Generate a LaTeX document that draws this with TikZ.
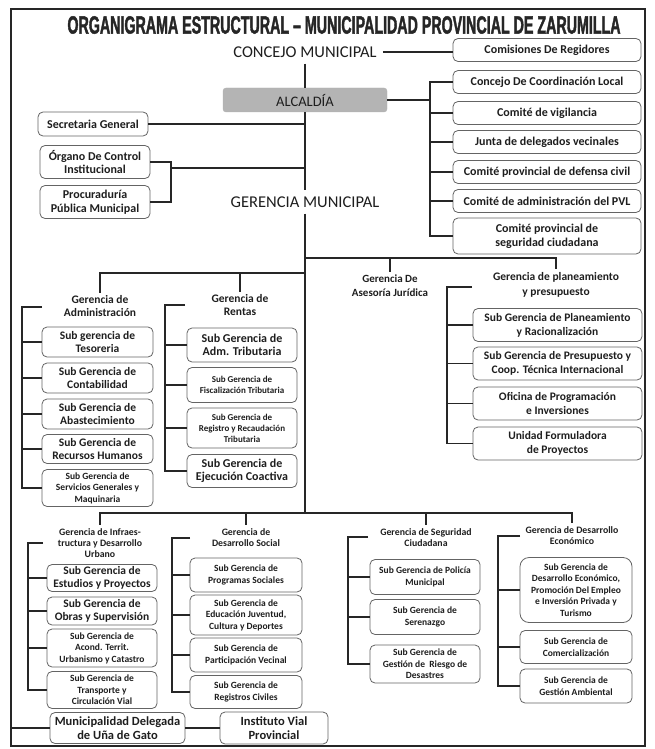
\documentclass[tikz,border=0pt]{standalone}
\usepackage{fontspec}
\setmainfont{Carlito}
\newfontfamily\titlefont[FakeStretch=0.57,FakeBold=1.5]{Liberation Sans}
\usepackage{xcolor}
\definecolor{inkLine}{RGB}{38,38,38}
\definecolor{inkText}{RGB}{30,30,30}
\definecolor{boxEdge}{RGB}{100,100,100}
\definecolor{alcFill}{RGB}{180,180,180}
\tikzset{
    every node/.append style={align=center,text=inkText},
    box/.style={rectangle,draw=boxEdge,line width=0.8pt,rounded corners=5pt,fill=white,
        inner sep=1pt,font=\fontsize{11.5}{12.5}\selectfont\bfseries},
    rcol/.style={box,minimum width=188pt,minimum height=23pt,font=\fontsize{12}{14}\selectfont\bfseries},
    lcol/.style={box,minimum width=110pt,minimum height=24pt,font=\fontsize{12}{13.5}\selectfont\bfseries},
    sub/.style={box,minimum width=111pt},
    plan/.style={box,minimum width=169pt,minimum height=33pt,font=\fontsize{11.5}{14}\selectfont\bfseries},
    fsml/.style={font=\fontsize{9.5}{11.5}\selectfont\bfseries},
    hdr/.style={inner sep=3pt,font=\fontsize{11.5}{13}\selectfont\bfseries},
    hsml/.style={inner sep=3pt,font=\fontsize{9.8}{11.3}\selectfont\bfseries},
    big/.style={inner sep=6pt,font=\fontsize{16.5}{18}\selectfont},
    alc/.style={rectangle,fill=alcFill,draw=black!30,rounded corners=3pt,minimum width=164pt,
        minimum height=24pt,font=\fontsize{14.5}{16}\selectfont},
    ttl/.style={inner sep=0pt,font=\titlefont\fontsize{25}{25}\selectfont\bfseries,text=black!85},
    link/.style={draw=inkLine,line width=1.3pt},
    frame/.style={draw=inkLine,line width=1.4pt}
}
\begin{document}
\begin{tikzpicture}[x=1pt,y=-1pt]
    \useasboundingbox (0,0) rectangle (654,749);
    \draw[frame] (11,9) rectangle (645,746);
    \node[ttl] (title) at (344,25) {ORGANIGRAMA ESTRUCTURAL – MUNICIPALIDAD PROVINCIAL DE ZARUMILLA};

    % top: council, mayor and staff offices
    \node[big]  (concejo)  at (305,52)  {CONCEJO MUNICIPAL};
    \node[alc]  (alcaldia) at (305,100) {ALCALD\'IA};
    \node[big]  (germ)     at (305,202) {GERENCIA MUNICIPAL};
    \node[rcol] (comis)    at (547,50)  {Comisiones De Regidores};
    \node[rcol] (coord)    at (547,82)  {Concejo De Coordinaci\'on Local};
    \node[rcol] (vigil)    at (547,113) {Comit\'e de vigilancia};
    \node[rcol] (junta)    at (547,142) {Junta de delegados vecinales};
    \node[rcol] (civil)    at (547,172) {Comit\'e provincial de defensa civil};
    \node[rcol] (pvl)      at (547,201) {Comit\'e de administraci\'on del PVL};
    \node[rcol,minimum height=36pt] (segc) at (547,236) {Comit\'e provincial de\\seguridad ciudadana};
    \node[lcol] (secret)   at (93,124)  {Secretaria General};
    \node[lcol,minimum height=33pt] (organo) at (95,162) {\'Organo De Control\\Institucional};
    \node[lcol,minimum height=33pt] (procur) at (95,202) {Procuradur\'ia\\P\'ublica Municipal};

    \coordinate (rbTop) at (430,82);
    \coordinate (lbr)   at (171,168);
    \draw[link] (concejo.east) -- (concejo.east -| comis.west);
    \draw[link] (concejo) -- (alcaldia);
    \draw[link] (alcaldia) -- (germ);
    \draw[link] (alcaldia.east) -- (alcaldia.east -| rbTop);
    \draw[link] (coord.west) -- (rbTop) |- (segc.west);
    \draw[link] (vigil.west) -- (vigil.west -| rbTop);
    \draw[link] (junta.west) -- (junta.west -| rbTop);
    \draw[link] (civil.west) -- (civil.west -| rbTop);
    \draw[link] (pvl.west) -- (pvl.west -| rbTop);
    \draw[link] (secret.east) -- (secret.east -| alcaldia.south);
    \draw[link] (organo.east) -| (lbr) |- (procur.east);
    \draw[link] (lbr) -- (lbr -| alcaldia.south);

    % second row of offices
    \coordinate (t2R) at (305,258);
    \coordinate (t2L) at (305,273);
    \coordinate (t3)  at (305,513);
    \node[hdr] (hAdm) at (100,306.5) {Gerencia de\\Administraci\'on};
    \node[hdr] (hRen) at (240,305.5) {Gerencia de\\Rentas};
    \node[hdr,font=\fontsize{11}{14}\selectfont\bfseries] (hAse) at (390,286) {Gerencia De\\Asesor\'ia Jur\'idica};
    \node[hdr,font=\fontsize{11.5}{15}\selectfont\bfseries] (hPla) at (556,284.5) {Gerencia de planeamiento\\y presupuesto};
    \draw[link] (germ) -- (t3);
    \draw[link] (t2R) -| (hPla.north);
    \draw[link] (hAse.north |- t2R) -- (hAse.north);
    \draw[link] (t2L) -| (hAdm.north);
    \draw[link] (hRen.north |- t2L) -- (hRen.north);

    \node[sub,minimum height=30pt] (tes)  at (97.5,342) {Sub gerencia de\\Tesoreria};
    \node[sub,minimum height=30pt] (cont) at (97.5,378) {Sub Gerencia de\\Contabilidad};
    \node[sub,minimum height=30pt] (abas) at (97.5,414) {Sub Gerencia de\\Abastecimiento};
    \node[sub,minimum height=29pt] (rrhh) at (97.5,449) {Sub Gerencia de\\Recursos Humanos};
    \node[sub,fsml,minimum height=37pt] (serv) at (97.5,488) {Sub Gerencia de\\Servicios Generales y\\Maquinaria};
    \coordinate (admTop) at (22,307);
    \coordinate (admTip) at (42,307);
    \draw[link] (admTip) -- (admTop) |- (serv.west);
    \draw[link] (tes.west) -- (tes.west -| admTop);
    \draw[link] (cont.west) -- (cont.west -| admTop);
    \draw[link] (abas.west) -- (abas.west -| admTop);
    \draw[link] (rrhh.west) -- (rrhh.west -| admTop);

    \node[sub,minimum width=110pt,minimum height=34pt,font=\fontsize{12}{13}\selectfont\bfseries] (admt) at (242,345) {Sub Gerencia de\\Adm. Tributaria};
    \node[sub,fsml,minimum width=110pt,minimum height=35pt,font=\fontsize{9}{11.5}\selectfont\bfseries] (fisc) at (242,385) {Sub Gerencia de\\Fiscalizaci\'on Tributaria};
    \node[sub,fsml,minimum width=110pt,minimum height=40pt,font=\fontsize{9}{11}\selectfont\bfseries] (regr) at (242,428) {Sub Gerencia de\\Registro y Recaudaci\'on\\Tributaria};
    \node[sub,minimum width=110pt,minimum height=33pt,font=\fontsize{12}{13}\selectfont\bfseries] (ejec) at (242,471) {Sub Gerencia de\\Ejecuci\'on Coactiva};
    \coordinate (renTop) at (165,305);
    \coordinate (renTip) at (185,305);
    \draw[link] (renTip) -- (renTop) |- (ejec.west);
    \draw[link] (admt.west) -- (admt.west -| renTop);
    \draw[link] (fisc.west) -- (fisc.west -| renTop);
    \draw[link] (regr.west) -- (regr.west -| renTop);

    \node[plan] (plrac) at (557.5,325)   {Sub Gerencia de Planeamiento\\y Racionalizaci\'on};
    \node[plan] (pres)  at (557.5,363.5) {Sub Gerencia de Presupuesto y\\Coop. T\'ecnica Internacional};
    \node[plan] (ofic)  at (557.5,403.5) {Oficina de Programaci\'on\\e Inversiones};
    \node[plan] (unid)  at (557.5,443.5) {Unidad Formuladora\\de Proyectos};
    \coordinate (plaTop) at (447,287);
    \coordinate (plaTip) at (472,287);
    \draw[link] (plaTip) -- (plaTop) |- (unid.west);
    \draw[link] (plrac.west) -- (plrac.west -| plaTop);
    \draw[link] (pres.west) -- (pres.west -| plaTop);
    \draw[link] (ofic.west) -- (ofic.west -| plaTop);

    % third row of offices
    \node[hsml] (hInf) at (100,543)   {Gerencia de Infraes-\\tructura y Desarrollo\\Urbano};
    \node[hsml] (hSoc) at (246,537.5) {Gerencia de\\Desarrollo Social};
    \node[hsml] (hSeg) at (426,537.5) {Gerencia de Seguridad\\Ciudadana};
    \node[hsml] (hEco) at (572,535.5) {Gerencia de Desarrollo\\Econ\'omico};
    \draw[link] (t3) -| (hInf.north);
    \draw[link] (t3) -| (hEco.north);
    \draw[link] (hSoc.north |- t3) -- (hSoc.north);
    \draw[link] (hSeg.north |- t3) -- (hSeg.north);

    \node[sub,minimum width=110pt,minimum height=27pt] (estu) at (102,578) {Sub Gerencia de\\Estudios y Proyectos};
    \node[sub,minimum width=110pt,minimum height=28pt] (obra) at (102,611) {Sub Gerencia de\\Obras y Supervisi\'on};
    \node[sub,fsml,minimum width=110pt,minimum height=38pt] (acon) at (102,648) {Sub Gerencia de\\Acond. Territ.\\Urbanismo y Catastro};
    \node[sub,fsml,minimum width=110pt,minimum height=37pt] (tran) at (102,690) {Sub Gerencia de\\Transporte y\\Circulaci\'on Vial};
    \coordinate (infTop) at (28,543);
    \coordinate (infTip) at (43,543);
    \draw[link] (infTip) -- (infTop) |- (tran.west);
    \draw[link] (estu.west) -- (estu.west -| infTop);
    \draw[link] (obra.west) -- (obra.west -| infTop);
    \draw[link] (acon.west) -- (acon.west -| infTop);

    \node[sub,fsml,minimum width=112pt,minimum height=34pt] (prog) at (246,575) {Sub Gerencia de\\Programas Sociales};
    \node[sub,fsml,minimum width=112pt,minimum height=40pt] (educ) at (246,615) {Sub Gerencia de\\Educaci\'on Juventud,\\Cultura y Deportes};
    \node[sub,fsml,minimum width=112pt,minimum height=34pt] (part) at (246,655) {Sub Gerencia de\\Participaci\'on Vecinal};
    \node[sub,fsml,minimum width=112pt,minimum height=33pt] (regc) at (246,692) {Sub Gerencia de\\Registros Civiles};
    \coordinate (socTop) at (172,538);
    \coordinate (socTip) at (190,538);
    \draw[link] (socTip) -- (socTop) |- (regc.west);
    \draw[link] (prog.west) -- (prog.west -| socTop);
    \draw[link] (educ.west) -- (educ.west -| socTop);
    \draw[link] (part.west) -- (part.west -| socTop);

    \node[sub,fsml,minimum width=110pt,minimum height=35pt] (poli) at (425,577) {Sub Gerencia de Polic\'ia\\Municipal};
    \node[sub,fsml,minimum width=110pt,minimum height=35pt] (sere) at (425,617) {Sub Gerencia de\\Serenazgo};
    \node[sub,fsml,minimum width=110pt,minimum height=38pt] (ries) at (425,664) {Sub Gerencia de\\Gesti\'on de\ \ Riesgo de\\Desastres};
    \coordinate (segTop) at (348,537);
    \coordinate (segTip) at (368,537);
    \draw[link] (segTip) -- (segTop) |- (ries.west);
    \draw[link] (poli.west) -- (poli.west -| segTop);
    \draw[link] (sere.west) -- (sere.west -| segTop);

    \node[sub,fsml,minimum width=112pt,minimum height=65pt,rounded corners=9pt] (dese) at (576,590) {Sub Gerencia de\\Desarrollo Econ\'omico,\\Promoci\'on Del Empleo\\e Inversi\'on Privada y\\Turismo};
    \node[sub,fsml,minimum width=112pt,minimum height=33pt] (come) at (576,647) {Sub Gerencia de\\Comercializaci\'on};
    \node[sub,fsml,minimum width=112pt,minimum height=34pt] (gamb) at (576,686) {Sub Gerencia de\\Gesti\'on Ambiental};
    \coordinate (ecoTop) at (498,536);
    \coordinate (ecoTip) at (520,536);
    \draw[link] (ecoTip) -- (ecoTop) |- (gamb.west);
    \draw[link] (dese.west) -- (dese.west -| ecoTop);
    \draw[link] (come.west) -- (come.west -| ecoTop);

    % bottom: delegated municipality and road institute
    \node[box,minimum width=135pt,minimum height=31pt,font=\fontsize{12.5}{14}\selectfont\bfseries] (muni) at (117.5,728) {Municipalidad Delegada\\de U\~na de Gato};
    \node[box,minimum width=108pt,minimum height=32pt,font=\fontsize{12.5}{14}\selectfont\bfseries] (inst) at (274,728) {Instituto Vial\\Provincial};
    \coordinate (edgeW) at (11,728);
    \draw[link] (edgeW) -- (muni);
    \draw[link] (muni) -- (inst);
\end{tikzpicture}
\end{document}
